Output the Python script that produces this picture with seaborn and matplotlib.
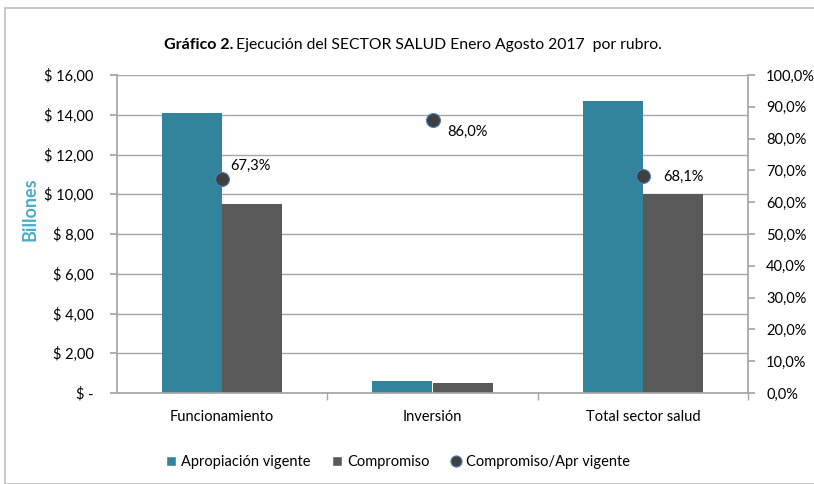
import matplotlib
matplotlib.use("Agg")
import matplotlib.pyplot as plt
import seaborn as sns
import pandas as pd
from matplotlib.patches import Rectangle
from matplotlib.lines import Line2D
from matplotlib.ticker import FuncFormatter

categories = ["Funcionamiento", "Inversión", "Total sector salud"]
apropiacion = [14.09, 0.61, 14.69]
compromiso = [9.51, 0.525, 10.01]
ratio = [0.673, 0.860, 0.681]
ratio_labels = ["67,3%", "86,0%", "68,1%"]
series_names = ["Apropiación vigente", "Compromiso"]

sns.set_theme(style="white")
plt.rcParams['font.family'] = ['Lato', 'DejaVu Sans']
plt.rcParams['text.color'] = 'black'
plt.rcParams['xtick.color'] = 'black'
plt.rcParams['ytick.color'] = 'black'

FS = 10.5

df = pd.DataFrame({
    "cat": categories * 2,
    "serie": [series_names[0]] * 3 + [series_names[1]] * 3,
    "val": apropiacion + compromiso,
})

fig = plt.figure(figsize=(8.14, 4.84), dpi=100)
fig.patches.append(Rectangle((5/814, 0), 1, 1 - 8/484, transform=fig.transFigure,
                             fill=False, edgecolor="#bfbfbf", linewidth=1.2))
ax = fig.add_axes([117/814, 1 - 393/484, (748-117)/814, (393-75)/484])
teal = "#31849B"
gray = "#595959"
sns.barplot(data=df, x="cat", y="val", hue="serie", palette=[teal, gray],
            width=0.572, ax=ax, legend=False, saturation=1, linewidth=0)
ax.set_ylim(0, 16)
ax.set_xlim(-0.5, 2.5)
ax.set_yticks(range(0, 17, 2))
ax.yaxis.set_major_formatter(FuncFormatter(lambda v, p: "$ -" if v == 0 else "$ " + f"{v:.2f}".replace(".", ",")))
ax.grid(axis="y", color="#a6a6a6", linewidth=1)
ax.set_axisbelow(True)
for s in ["top", "right"]:
    ax.spines[s].set_visible(False)
ax.spines["left"].set_color("#a6a6a6")
ax.spines["bottom"].set_color("#a6a6a6")
ax.tick_params(axis="y", which="major", left=True, length=5, color="#a6a6a6", labelsize=FS, pad=12)
ax.tick_params(axis="x", length=0, labelsize=FS, pad=12)
ax.set_xticks(range(3))
ax.set_xticklabels(categories)
ax.set_xticks([0.5, 1.5, 2.5], minor=True)
ax.tick_params(axis="x", which="minor", bottom=True, length=5, color="#a6a6a6")
ax.set_xlabel("")
ax.set_ylabel("")
fig.text(30/814, 1 - 209/484, "Billones", rotation=90, ha="center", va="center",
         color="#4bacc6", fontsize=13, fontweight="bold")

ax2 = ax.twinx()
ax2.set_ylim(0, 1)
ax2.set_yticks([i / 10 for i in range(11)])
ax2.yaxis.set_major_formatter(FuncFormatter(lambda v, p: f"{v*100:.1f}%".replace(".", ",")))
for s in ["top", "left", "bottom"]:
    ax2.spines[s].set_visible(False)
ax2.spines["right"].set_color("#a6a6a6")
ax2.tick_params(axis="y", right=True, length=5, color="#a6a6a6", labelsize=FS, pad=8)
ax2.grid(False)
ax2.plot(range(3), ratio, linestyle="none", marker="o", markersize=10,
         markerfacecolor="#404040", markeredgecolor="#4f81bd", markeredgewidth=0.8, zorder=5)
offsets = [(8, 13), (15, -12), (20, 0)]
for i, (r, lab) in enumerate(zip(ratio, ratio_labels)):
    ax2.annotate(lab, (i, r), xytext=offsets[i], textcoords="offset pixels",
                 ha="left", va="center", fontsize=FS)

fig.text(233/814, 1 - 45/484, "Gráfico 2.", ha="right", va="center", fontsize=11.5, fontweight="bold")
fig.text(236/814, 1 - 45/484, "Ejecución del SECTOR SALUD Enero Agosto 2017  por rubro.",
         ha="left", va="center", fontsize=11.3)

handles = [
    Rectangle((0, 0), 1, 1, facecolor=teal),
    Rectangle((0, 0), 1, 1, facecolor=gray),
    Line2D([], [], linestyle="none", marker="o", markersize=8, markerfacecolor="#404040",
           markeredgecolor="#4f81bd", markeredgewidth=0.8),
]
fig.legend(handles, series_names + ["Compromiso/Apr vigente"], loc="center",
           bbox_to_anchor=(398/814, 1 - 462/484), ncol=3, frameon=False, fontsize=FS,
           handlelength=0.7, handleheight=0.7, handletextpad=0.3, columnspacing=1.5)

fig.savefig("out.png", dpi=100)
